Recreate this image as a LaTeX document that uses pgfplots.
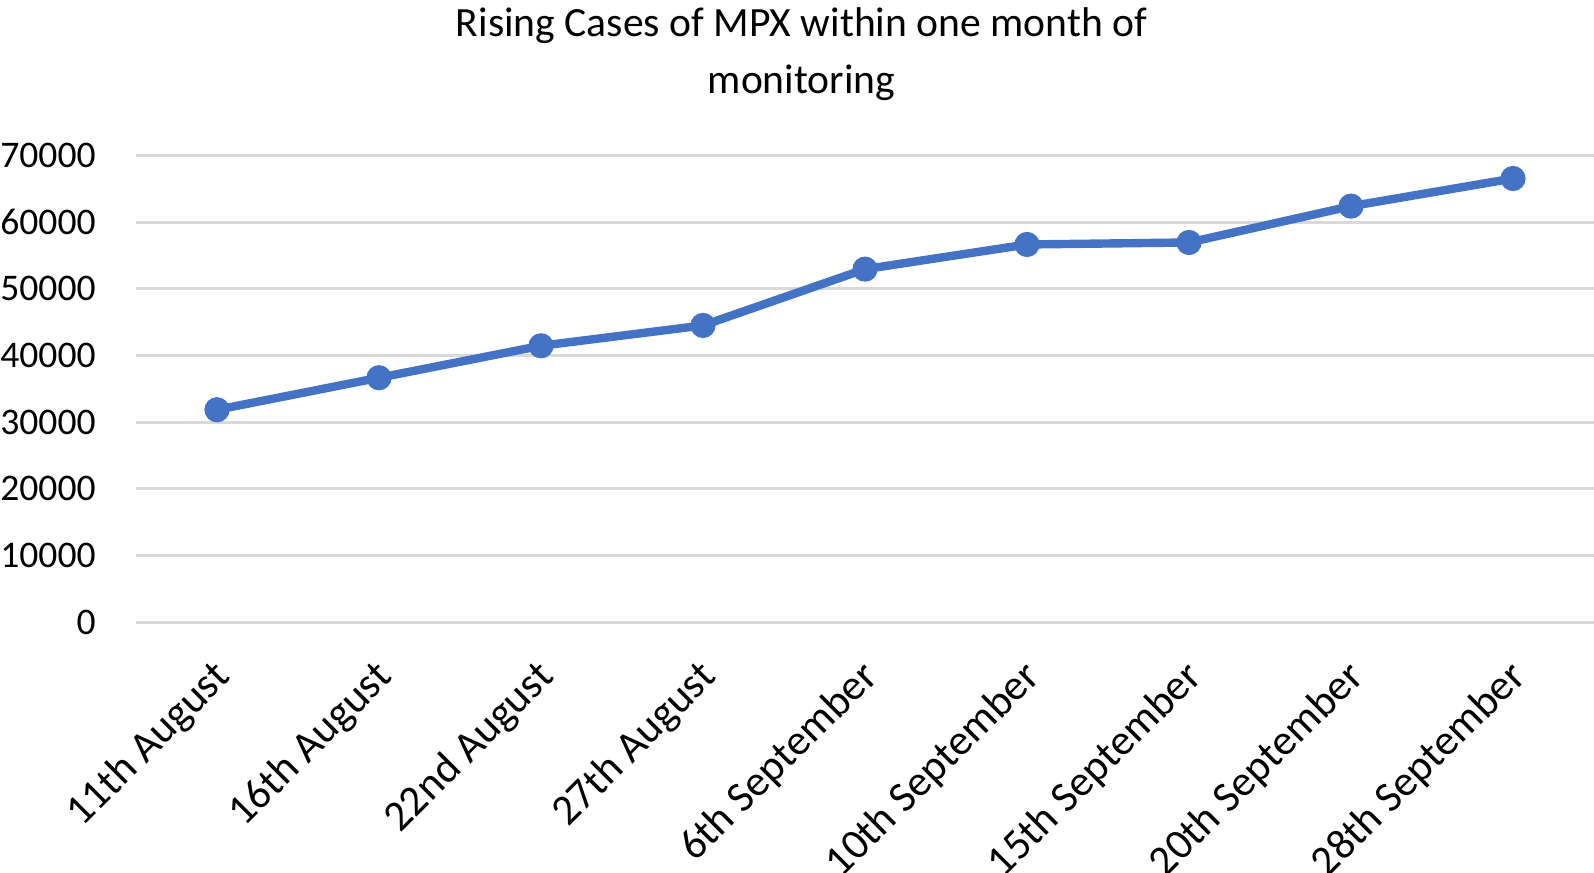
\documentclass[border=0pt]{standalone}
\usepackage{pgfplots}
\pgfplotsset{compat=1.18}
\usepackage{fontspec}
\setmainfont{Carlito}
\definecolor{lineblue}{HTML}{4472C4}
\definecolor{gridgray}{HTML}{D9D9D9}
\begin{document}
\begin{tikzpicture}
\begin{axis}[
  name=ax,
  scale only axis,
  width=729pt, height=233.25pt,
  xmin=-0.5, xmax=8.5, ymin=0, ymax=70000,
  xtick={0,1,2,3,4,5,6,7,8},
  xticklabels={11th August, 16th August, 22nd August, 27th August, 6th September, 10th September, 15th September, 20th September, 28th September},
  ytick={0,10000,20000,30000,40000,50000,60000,70000},
  ymajorgrids,
  major grid style={gridgray, line width=1.5pt},
  axis line style={draw=none},
  major tick length=0pt,
  scaled y ticks=false,
  /pgf/number format/assume math mode=true,
  /pgf/number format/fixed,
  /pgf/number format/1000 sep={},
  yticklabel style={font=\fontsize{18.8}{22}\selectfont, anchor=east, inner sep=0pt, xshift=-20pt},
  xticklabel style={font=\fontsize{21.5}{25}\selectfont, xshift=-3.2pt, yshift=-17.4pt, rotate=45, anchor=north east, inner sep=0pt},
  title={Rising Cases of MPX within one month of\\monitoring},
  title style={at={(0.4565,1.293)}, anchor=north, align=center, inner sep=0pt, font=\fontsize{20.8}{28.5}\selectfont},
  clip=false,
]
\addplot[lineblue, line width=4.2pt, line join=round, mark=*, mark size=5.8pt, mark options={line width=1pt, fill=lineblue}]
  coordinates {(0,31850) (1,36650) (2,41450) (3,44500) (4,52950) (5,56650) (6,56950) (7,62400) (8,66550)};
\end{axis}
\pgfresetboundingbox
\useasboundingbox ([shift={(-68pt,-125pt)}]ax.south west) rectangle ([shift={(0pt,77.75pt)}]ax.north east);
\end{tikzpicture}
\end{document}
